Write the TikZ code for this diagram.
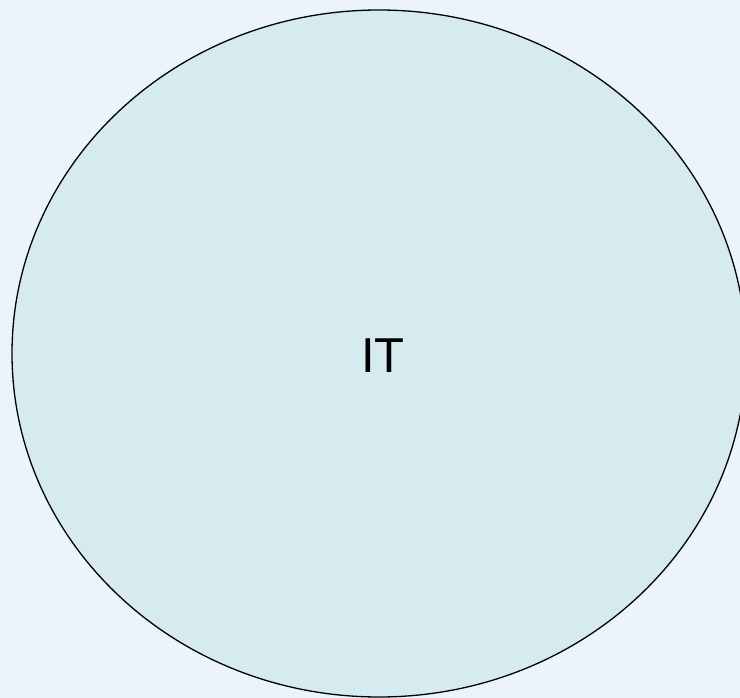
\documentclass[tikz,border=0pt]{standalone}
\usepackage{fontspec}
\setmainfont{Liberation Sans}
\usetikzlibrary{shapes.geometric}
\definecolor{bgc}{HTML}{EBF3FB}
\definecolor{fillc}{HTML}{D6EBF0}
\begin{document}
\begin{tikzpicture}[x=1pt,y=-1pt,
  bubble/.style={ellipse,draw=black,line width=1.3pt,fill=fillc,minimum width=734pt,minimum height=687pt,inner sep=0pt},
  lbl/.style={font=\fontsize{49}{55}\selectfont,text=black}]
\fill[bgc] (0,0) rectangle (740,698);
\useasboundingbox (0,0) rectangle (740,698);
\node[bubble] (it) at (379,353.5) {};
\node[lbl] (itl) at (383,356) {IT};
\end{tikzpicture}
\end{document}
